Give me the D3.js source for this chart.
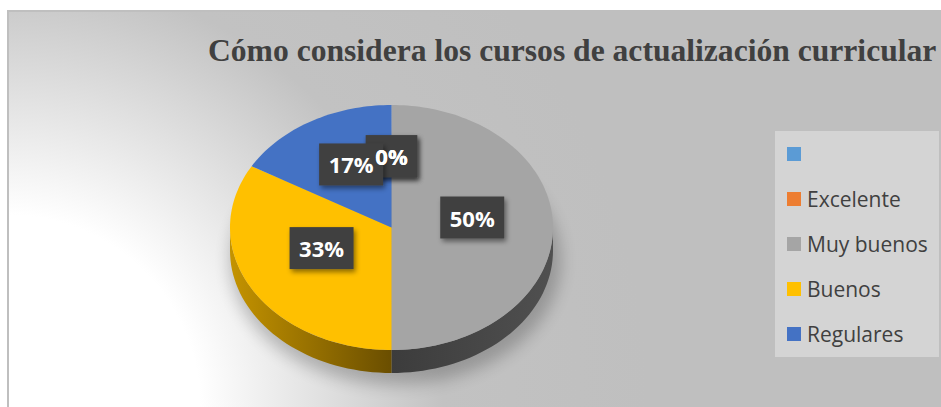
<!DOCTYPE html>
<html><head><meta charset="utf-8">
<script src="https://cdn.jsdelivr.net/npm/d3@7"></script>
<style>html,body{margin:0;padding:0;background:#fff;overflow:hidden}</style>
</head><body>
<svg id="c" width="941" height="407"></svg>
<script>
const title = "Cómo considera los cursos de actualización curricular";
const categories = ["", "Excelente", "Muy buenos", "Buenos", "Regulares"];
const values = [0, 0, 3, 2, 1];
const colors = ["#5b9bd5", "#ed7d31", "#a5a5a5", "#ffc000", "#4472c4"];
const sideColors = [["#3a6a95","#2a4d6d"], ["#a8561f","#7a3d15"], ["#505050","#3c3c3c"], ["#c49300","#6a4e00"], ["#2f5290","#203a66"]];

const svg = d3.select("#c");
const W = 941, H = 407;
const defs = svg.append("defs");

// background gradient
const bg = defs.append("radialGradient").attr("id","bg").attr("gradientUnits","userSpaceOnUse")
  .attr("cx",8).attr("cy",407).attr("r",640);
bg.append("stop").attr("offset","0").attr("stop-color","#ffffff");
bg.append("stop").attr("offset","0.30").attr("stop-color","#ffffff");
bg.append("stop").attr("offset","0.48").attr("stop-color","#e2e2e2");
bg.append("stop").attr("offset","0.68").attr("stop-color","#c2c2c2");
bg.append("stop").attr("offset","1").attr("stop-color","#bfbfbf");

svg.append("rect").attr("x",8).attr("y",11).attr("width",W).attr("height",H)
  .attr("fill","url(#bg)").attr("stroke","#bfbfbf").attr("stroke-width",2);

// title (fit inside the right edge)
const tt = svg.append("text").attr("x",208).attr("y",61)
  .attr("font-family","'Liberation Serif','Times New Roman',serif").attr("font-weight","bold")
  .attr("font-size",31.6).attr("fill","#404040").text(title);
const tlen = tt.node().getComputedTextLength();
tt.attr("x", Math.min(208, 939 - tlen));

// filters
const blur = defs.append("filter").attr("id","pshadow").attr("x","-30%").attr("y","-30%").attr("width","160%").attr("height","160%");
blur.append("feGaussianBlur").attr("stdDeviation",8);
const ds = defs.append("filter").attr("id","lshadow").attr("x","-30%").attr("y","-30%").attr("width","160%").attr("height","160%");
ds.append("feDropShadow").attr("dx",2).attr("dy",3).attr("stdDeviation",2.5).attr("flood-color","#000").attr("flood-opacity",0.45);

// pie geometry
const cx = 391.5, cy = 227.5, rx = 161.5, ry = 122.5, depth = 23;
const pie = d3.pie().sort(null).value(d => d)(values);
const pt = (a, dy=0) => [cx + rx*Math.sin(a), cy - ry*Math.cos(a) + dy];

// shadow
svg.append("ellipse").attr("cx",cx+4).attr("cy",cy+depth+10).attr("rx",rx+4).attr("ry",ry+2)
  .attr("fill","#000").attr("opacity",0.22).attr("filter","url(#pshadow)");

// side walls
function sidePath(a0, a1) {
  const n = 40, top = [], bot = [];
  for (let i=0;i<=n;i++){ const a=a0+(a1-a0)*i/n; top.push(pt(a)); bot.push(pt(a,depth)); }
  return "M" + top.map(p=>p.join(",")).join("L") + "L" + bot.reverse().map(p=>p.join(",")).join("L") + "Z";
}
const sides = svg.append("g");
pie.forEach((d,i) => {
  const a0 = Math.max(d.startAngle, Math.PI/2), a1 = Math.min(d.endAngle, 3*Math.PI/2);
  if (a1 - a0 <= 0.0001) return;
  const gid = "side"+i;
  const p0 = pt(a0), p1 = pt(a1);
  const g = defs.append("linearGradient").attr("id",gid).attr("gradientUnits","userSpaceOnUse")
    .attr("x1",Math.min(p0[0],p1[0])).attr("x2",Math.max(p0[0],p1[0])).attr("y1",0).attr("y2",0);
  const c = sideColors[i];
  const leftIsOuter = Math.min(p0[0],p1[0]) < cx - 1;
  g.append("stop").attr("offset",0).attr("stop-color", leftIsOuter ? c[0] : c[1]);
  g.append("stop").attr("offset",1).attr("stop-color", leftIsOuter ? c[1] : c[0]);
  sides.append("path").attr("d", sidePath(a0,a1)).attr("fill","url(#"+gid+")");
});

// top faces
const tops = svg.append("g");
pie.forEach((d,i) => {
  if (d.endAngle - d.startAngle <= 0) return;
  const n = Math.max(2, Math.ceil((d.endAngle-d.startAngle)*40));
  const pts = [];
  for (let k=0;k<=n;k++) pts.push(pt(d.startAngle + (d.endAngle-d.startAngle)*k/n));
  tops.append("path").attr("d","M"+cx+","+cy+"L"+pts.map(p=>p.join(",")).join("L")+"Z")
    .attr("fill", colors[i]);
});

// labels
const fmt = d3.format(".0%");
const total = d3.sum(values);
const lg = svg.append("g");
const labelData = pie.map((d,i) => {
  const m = (d.startAngle + d.endAngle)/2;
  return {x: cx + 0.5*rx*Math.sin(m), y: cy - 10 - 0.5*ry*Math.cos(m), t: fmt(d.value/total)};
});
const boxes = lg.append("g"), texts = lg.append("g");
labelData.forEach(L => {
  const t = texts.append("text").attr("x",L.x).attr("y",L.y).attr("text-anchor","middle")
    .attr("dominant-baseline","central").attr("font-family","'Open Sans',sans-serif")
    .attr("font-weight","bold").attr("font-size",22).attr("fill","#ffffff").text(L.t);
  const w = t.node().getComputedTextLength() + 19;
  boxes.append("rect").attr("x",L.x - w/2).attr("y",L.y-21).attr("width",w).attr("height",42)
    .attr("fill","#404040").attr("filter","url(#lshadow)");
});

// legend
const leg = svg.append("g");
leg.append("rect").attr("x",775).attr("y",131).attr("width",164).attr("height",226).attr("fill","#d4d4d4");
categories.forEach((c,i) => {
  const y = 154 + i*45;
  leg.append("rect").attr("x",787).attr("y",y-7).attr("width",14).attr("height",14).attr("fill",colors[i]);
  leg.append("text").attr("x",807).attr("y",y).attr("dominant-baseline","central")
    .attr("font-family","'Open Sans',sans-serif").attr("font-size",21).attr("fill","#404040").text(c);
});
</script>
</body></html>
